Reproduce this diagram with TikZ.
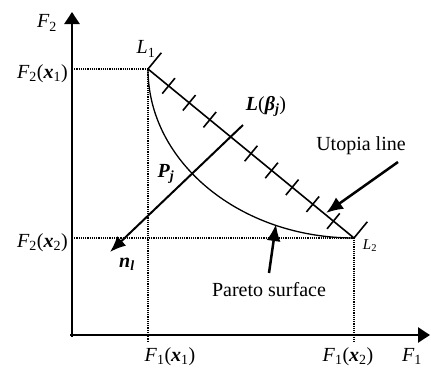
\documentclass[tikz,border=0pt]{standalone}
\usepackage{fontspec}
\setmainfont{Liberation Serif}
\usetikzlibrary{arrows.meta,calc}

\newcommand{\bvec}[1]{\textbf{\textit{#1}}}

\tikzset{
  axis/.style={line width=2.5pt, -{Triangle[length=12pt,width=15pt]}},
  guide/.style={densely dotted, line width=1.2pt},
  pointer/.style={line width=2.5pt, -{Latex[length=17pt,width=14pt]}},
  lbl/.style={font=\fontsize{20}{24}\selectfont, inner sep=0pt},
}

\begin{document}
\begin{tikzpicture}[x=1pt, y=-1pt]
  \useasboundingbox (0,0) rectangle (431,368);

  \coordinate (O) at (72,335);
  \coordinate (L1) at (148,69);
  \coordinate (L2) at (354,238);
  \coordinate (Xend) at (430,335);
  \coordinate (Yend) at (72,12);

  % guide lines
  \draw[guide] (O |- L1) -- (L1) -- (148,342);
  \draw[guide] (O |- L2) -- (L2) -- (354,342);

  % axes
  \draw[axis] (70,335) -- (Xend);
  \draw[axis] (72,337) -- (Yend);

  % pareto surface
  \draw[line width=1.3pt] (L1) .. controls (148,162) and (240,238) .. (L2);

  % utopia line with marks
  \draw[line width=1.6pt] (L1) -- (L2);
  \draw[line width=1.6pt] (L1) -- ($(L1)!21pt!90:(L2)$);
  \draw[line width=1.6pt] (L2) -- ($(L2)!21pt!-90:(L1)$);
  \foreach \t in {0.1,0.2,0.3,0.5,0.6,0.7,0.8,0.9} {
    \coordinate (T) at ($(L1)!\t!(L2)$);
    \draw[line width=1.6pt] ($(T)!10pt!90:(L2)$) -- ($(T)!10pt!-90:(L2)$);
  }

  % normal
  \coordinate (Ntop) at (243,125);
  \coordinate (Ntip) at (110,252);
  \draw[line width=2pt, -{Latex[length=16pt,width=13pt]}] (Ntop) -- (Ntip);

  % labels
  \node[lbl] (f2) at (47,23) {\textit{F}\textsubscript{2}};
  \node[lbl] (f1) at (412,356) {\textit{F}\textsubscript{1}};
  \node[lbl, anchor=east] (f2x1) at (68,74) {\textit{F}\textsubscript{2}(\bvec{x}\textsubscript{1})};
  \node[lbl, anchor=east] (f2x2) at (68,243) {\textit{F}\textsubscript{2}(\bvec{x}\textsubscript{2})};
  \node[lbl] (f1x1) at (170,357) {\textit{F}\textsubscript{1}(\bvec{x}\textsubscript{1})};
  \node[lbl] (f1x2) at (348,357) {\textit{F}\textsubscript{1}(\bvec{x}\textsubscript{2})};
  \node[lbl] (l1) at (146,49) {\textit{L}\textsubscript{1}};
  \node[lbl, font=\fontsize{15}{17}\selectfont] (l2) at (370,246) {\textit{L}\textsubscript{2}};
  \node[lbl] (lbeta) at (266,106) {\bvec{L}(\bvec{β}\textsubscript{\bvec{j}})};
  \node[lbl] (pj) at (166,174) {\bvec{P}\textsubscript{\bvec{j}}};
  \node[lbl] (nl) at (127,264) {\bvec{n}\textsubscript{\bvec{l}}};
  \node[lbl] (utopia) at (361,146) {Utopia line};
  \node[lbl] (pareto) at (269,290) {Pareto surface};

  % pointers
  \coordinate (Utail) at (398,162);
  \coordinate (Utip) at (326,213);
  \draw[pointer] (Utail) -- (Utip);
  \coordinate (Ptail) at (269,273);
  \coordinate (Ptip) at (276,224);
  \draw[pointer] (Ptail) -- (Ptip);
\end{tikzpicture}
\end{document}
